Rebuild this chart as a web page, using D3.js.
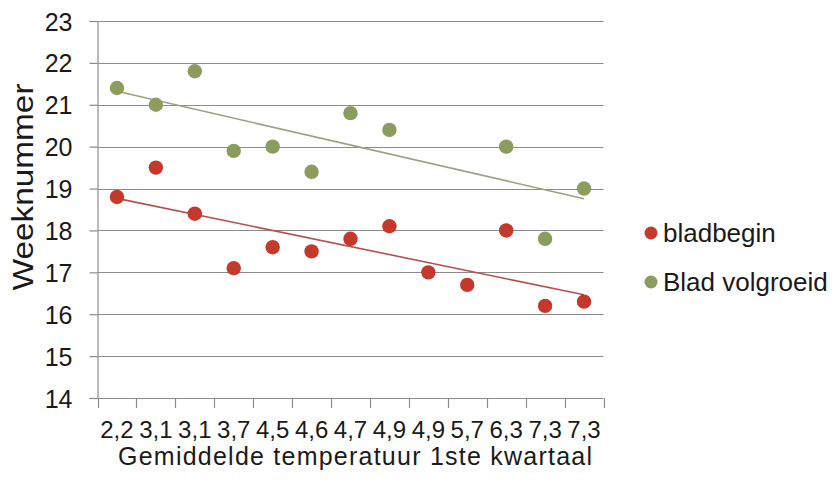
<!DOCTYPE html>
<html>
<head>
<meta charset="utf-8">
<script src="https://cdn.jsdelivr.net/npm/d3@7"></script>
<style>
  html, body { margin: 0; padding: 0; background: #fff; }
  svg { display: block; font-family: "Liberation Sans", Arial, sans-serif; }
</style>
</head>
<body>
<svg id="chart" width="838" height="496"></svg>
<script>
const categories = ["2,2","3,1","3,1","3,7","4,5","4,6","4,7","4,9","4,9","5,7","6,3","7,3","7,3"];
const bladbegin = [18.8, 19.5, 18.4, 17.1, 17.6, 17.5, 17.8, 18.1, 17.0, 16.7, 18.0, 16.2, 16.3];
const bladVolgroeid = [21.4, 21.0, 21.8, 19.9, 20.0, 19.4, 20.8, 20.4, null, null, 20.0, 17.8, 19.0];
const yTicks = [14, 15, 16, 17, 18, 19, 20, 21, 22, 23];
const seriesNames = ["bladbegin", "Blad volgroeid"];
const seriesColors = ["#C4392C", "#8C9C5F"];
const trendColors = ["#B8504C", "#9AA281"];

const svg = d3.select("#chart");
const pLeft = 97.5, pRight = 603.5, pTop = 21, pBottom = 398;

const idx = categories.map((d, i) => i);
const x = d3.scaleBand().domain(idx).range([pLeft, pRight]);
const y = d3.scaleLinear().domain([14, 23]).range([pBottom, pTop]);

// gridlines
svg.append("g").selectAll("line").data(yTicks.filter(t => t !== 14)).join("line")
  .attr("x1", pLeft).attr("x2", pRight)
  .attr("y1", d => Math.round(y(d)) + 0.5).attr("y2", d => Math.round(y(d)) + 0.5)
  .attr("stroke", "#8c8c8c").attr("stroke-width", 1.2);

// y axis
const yAxis = svg.append("g").attr("transform", `translate(${pLeft},0)`)
  .call(d3.axisLeft(y).tickValues(yTicks).tickSize(8).tickPadding(17).tickFormat(d3.format("d")));
yAxis.select(".domain").attr("stroke", "#8c8c8c").attr("stroke-width", 1.2);
yAxis.selectAll(".tick line").attr("stroke", "#8c8c8c").attr("stroke-width", 1.2);
yAxis.selectAll(".tick text").attr("font-size", 25).attr("fill", "#1a1a1a")
  .attr("font-family", "'Liberation Sans', Arial, sans-serif").attr("dy", "0.36em");

// x axis
const xAxis = svg.append("g").attr("transform", `translate(0,${pBottom})`)
  .call(d3.axisBottom(x).tickFormat(i => categories[i]).tickSize(0).tickPadding(23));
xAxis.select(".domain").remove();
xAxis.append("line").attr("x1", pLeft - 8).attr("x2", pRight).attr("y1", 0.5).attr("y2", 0.5)
  .attr("stroke", "#8c8c8c").attr("stroke-width", 1.2);
const bounds = idx.map(i => x(i)).concat([x(idx[idx.length - 1]) + x.bandwidth()]);
xAxis.append("g").selectAll("line").data(bounds).join("line")
  .attr("x1", d => Math.round(d) + 0.5).attr("x2", d => Math.round(d) + 0.5)
  .attr("y1", 0).attr("y2", 10)
  .attr("stroke", "#8c8c8c").attr("stroke-width", 1.2);
xAxis.selectAll(".tick text").attr("font-size", 24).attr("fill", "#1a1a1a")
  .attr("font-family", "'Liberation Sans', Arial, sans-serif");

// trendlines (least squares on category index)
function fit(vals) {
  const pts = vals.map((v, i) => [i + 1, v]).filter(p => p[1] != null);
  const mx = d3.mean(pts, p => p[0]), my = d3.mean(pts, p => p[1]);
  const sxy = d3.sum(pts, p => (p[0] - mx) * (p[1] - my));
  const sxx = d3.sum(pts, p => (p[0] - mx) ** 2);
  const b = sxy / sxx, a = my - b * mx;
  return t => a + b * t;
}
const cx = i => x(i) + x.bandwidth() / 2;
[bladbegin, bladVolgroeid].forEach((vals, s) => {
  const f = fit(vals);
  const i0 = 0, i1 = categories.length - 1;
  svg.append("line")
    .attr("x1", cx(i0)).attr("y1", y(f(i0 + 1)))
    .attr("x2", cx(i1)).attr("y2", y(f(i1 + 1)))
    .attr("stroke", trendColors[s]).attr("stroke-width", 1.6);
});

// points
[bladbegin, bladVolgroeid].forEach((vals, s) => {
  svg.append("g").selectAll("circle")
    .data(vals.map((v, i) => ({ i, v })).filter(d => d.v != null))
    .join("circle")
    .attr("cx", d => cx(d.i)).attr("cy", d => y(d.v))
    .attr("r", 7.2).attr("fill", seriesColors[s]);
});

// axis titles
svg.append("text")
  .attr("transform", `translate(33,187) rotate(-90)`)
  .attr("text-anchor", "middle")
  .attr("font-size", 30).attr("fill", "#1a1a1a")
  .attr("textLength", 207).attr("lengthAdjust", "spacingAndGlyphs")
  .text("Weeknummer");

svg.append("text")
  .attr("x", 355).attr("y", 465)
  .attr("text-anchor", "middle")
  .attr("font-size", 25).attr("fill", "#1a1a1a")
  .attr("textLength", 474).attr("lengthAdjust", "spacing")
  .text("Gemiddelde  temperatuur  1ste  kwartaal");

// legend
const legY = [233, 282];
seriesNames.forEach((name, s) => {
  svg.append("circle").attr("cx", 651).attr("cy", legY[s]).attr("r", 6.5).attr("fill", seriesColors[s]);
  svg.append("text").attr("x", 663).attr("y", legY[s]).attr("dy", "0.36em")
    .attr("font-size", 26).attr("fill", "#1a1a1a").text(name);
});
</script>
</body>
</html>
